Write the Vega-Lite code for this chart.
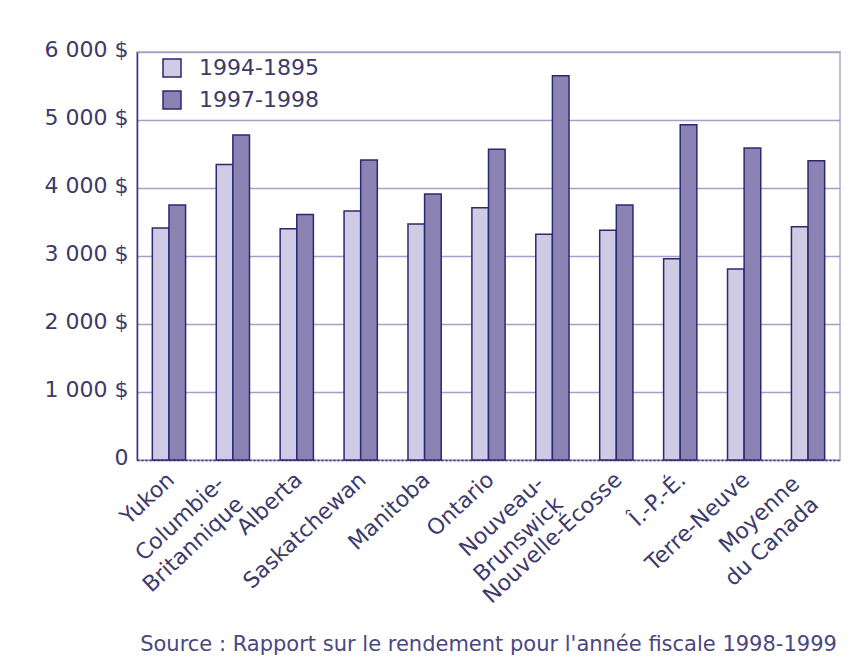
{
  "$schema": "https://vega.github.io/schema/vega-lite/v6.json",
  "width": 703,
  "height": 408,
  "autosize": {"type": "none"},
  "padding": {"left": 137, "top": 52, "right": 23, "bottom": 201},
  "background": "white",
  "title": {
    "text": "Source : Rapport sur le rendement pour l'année fiscale 1998-1999",
    "orient": "bottom",
    "anchor": "middle",
    "font": "DejaVu Sans",
    "fontSize": 21,
    "fontWeight": "normal",
    "color": "#4a4780",
    "offset": 27
  },
  "data": {
    "values": [
      {"region": "Yukon", "periode": "1994-1895", "montant": 3410},
      {"region": "Yukon", "periode": "1997-1998", "montant": 3750},
      {"region": "Columbie-\nBritannique", "periode": "1994-1895", "montant": 4345},
      {"region": "Columbie-\nBritannique", "periode": "1997-1998", "montant": 4780},
      {"region": "Alberta", "periode": "1994-1895", "montant": 3400},
      {"region": "Alberta", "periode": "1997-1998", "montant": 3610},
      {"region": "Saskatchewan", "periode": "1994-1895", "montant": 3660},
      {"region": "Saskatchewan", "periode": "1997-1998", "montant": 4410},
      {"region": "Manitoba", "periode": "1994-1895", "montant": 3470},
      {"region": "Manitoba", "periode": "1997-1998", "montant": 3910},
      {"region": "Ontario", "periode": "1994-1895", "montant": 3710},
      {"region": "Ontario", "periode": "1997-1998", "montant": 4570},
      {"region": "Nouveau-\nBrunswick", "periode": "1994-1895", "montant": 3320},
      {"region": "Nouveau-\nBrunswick", "periode": "1997-1998", "montant": 5650},
      {"region": "Nouvelle-Écosse", "periode": "1994-1895", "montant": 3380},
      {"region": "Nouvelle-Écosse", "periode": "1997-1998", "montant": 3750},
      {"region": "Î.-P.-É.", "periode": "1994-1895", "montant": 2960},
      {"region": "Î.-P.-É.", "periode": "1997-1998", "montant": 4930},
      {"region": "Terre-Neuve", "periode": "1994-1895", "montant": 2810},
      {"region": "Terre-Neuve", "periode": "1997-1998", "montant": 4590},
      {"region": "Moyenne\ndu Canada", "periode": "1994-1895", "montant": 3430},
      {"region": "Moyenne\ndu Canada", "periode": "1997-1998", "montant": 4400}
    ]
  },
  "mark": {"type": "bar", "stroke": "#2c2872", "strokeWidth": 1.5},
  "encoding": {
    "x": {
      "field": "region",
      "type": "nominal",
      "sort": null,
      "scale": {"paddingInner": 0.48, "paddingOuter": 0.24},
      "axis": {
        "title": null,
        "labelAngle": -43,
        "labelAlign": "right",
        "labelBaseline": "middle",
        "labelExpr": "split(datum.label, '\\n')",
        "labelLineHeight": 28,
        "labelFont": "DejaVu Sans",
        "labelFontSize": 22,
        "labelColor": "#3d3a6b",
        "labelPadding": {"condition": {"test": "indexof(datum.value, '\\n') >= 0", "value": 20}, "value": 16},
        "labelOffset": {"condition": {"test": "indexof(datum.value, '\\n') >= 0", "value": -12}, "value": 2},
        "labelLimit": 400,
        "ticks": false,
        "domainColor": "#3a3680",
        "domainWidth": 1.5,
        "domainDash": [2, 2],
        "labelOverlap": false
      }
    },
    "xOffset": {"field": "periode", "type": "nominal"},
    "y": {
      "field": "montant",
      "type": "quantitative",
      "scale": {"domain": [0, 6000], "nice": false},
      "axis": {
        "title": null,
        "values": [0, 1000, 2000, 3000, 4000, 5000, 6000],
        "labelExpr": "datum.value == 0 ? '0' : replace(format(datum.value, ','), ',', ' ') + ' $'",
        "labelFont": "DejaVu Sans",
        "labelFontSize": 22,
        "labelColor": "#3d3a6b",
        "labelPadding": 9,
        "labelOffset": -3,
        "ticks": false,
        "grid": true,
        "gridColor": "#a4a1c8",
        "gridWidth": 1.5,
        "domainColor": "#3a3680",
        "domainWidth": 1.5
      }
    },
    "fill": {
      "field": "periode",
      "type": "nominal",
      "scale": {"domain": ["1994-1895", "1997-1998"], "range": ["#cfcbe5", "#8b83b3"]},
      "legend": {
        "title": null,
        "orient": "none",
        "legendX": 24,
        "legendY": 5,
        "symbolType": "square",
        "symbolSize": 324,
        "symbolStrokeColor": "#2c2872",
        "symbolStrokeWidth": 1.5,
        "labelFont": "DejaVu Sans",
        "labelFontSize": 22,
        "labelColor": "#3d3a6b",
        "labelOffset": 16,
        "rowPadding": 8
      }
    }
  },
  "config": {
    "view": {"stroke": "#c4c2d8", "strokeWidth": 2}
  }
}
